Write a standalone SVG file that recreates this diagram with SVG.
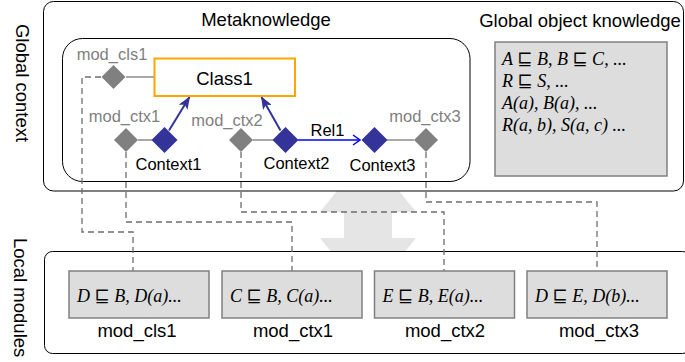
<svg xmlns="http://www.w3.org/2000/svg" width="685" height="362" viewBox="0 0 685 362">
<defs>
<style>
.t{font-family:"Liberation Sans",Arial,sans-serif;fill:#000}
.big{font-size:18.5px}
.lbl{font-size:16.5px}
.gl{fill:#7f7f7f}
.mid{text-anchor:middle}
.m{font-family:"Liberation Serif","Times New Roman","DejaVu Serif",serif;font-style:italic;font-size:18px;fill:#000}
.frame{fill:#fff;stroke:#000;stroke-width:1}
.kb{fill:#dddddd;stroke:#808080;stroke-width:1.5}
.dash{fill:none;stroke:#6e6e6e;stroke-width:1.3;stroke-dasharray:6 4}
.gline{stroke:#8c8c8c;stroke-width:1.5;fill:none}
.barr{stroke:#333399;stroke-width:2;fill:none}
</style>
<path id="dg" d="M0,-12 L12,0 L0,12 L-12,0 Z" fill="#808080"/>
<path id="db" d="M0,-13 L13,0 L0,13 L-13,0 Z" fill="#333399"/>
<marker id="ah" markerUnits="userSpaceOnUse" markerWidth="13" markerHeight="10" refX="12" refY="5" orient="auto"><path d="M0,0 L13,5 L0,10 L3,5 Z" fill="#333399"/></marker>
<marker id="oh" markerUnits="userSpaceOnUse" markerWidth="10" markerHeight="12" refX="8" refY="6" orient="auto"><path d="M1,1 L8,6 L1,11" fill="none" stroke="#0000ff" stroke-width="1.5"/></marker>
</defs>

<g id="exchange-arrow">
<polygon points="368,152 416,212 392,212 392,238 416,238 368,298 320,238 344,238 344,212 320,212" fill="#e5e5e5"/>
</g>

<g id="global-context">
<rect class="frame" x="43.5" y="1.5" width="640" height="189.5" rx="10"/>
<text class="t big mid" transform="translate(16,83) rotate(90)">Global context</text>
</g>

<g id="metaknowledge">
<rect class="frame" x="62.5" y="38.5" width="407.5" height="143" rx="20"/>
<text class="t big mid" x="266" y="25.5">Metaknowledge</text>
</g>

<g id="global-object-knowledge">
<text class="t big mid" x="580" y="27">Global object knowledge</text>
<rect class="kb" x="495" y="42" width="172" height="134"/>
<text class="m" x="502" y="64.5">A ⊑ B, B ⊑ C, ...</text>
<text class="m" x="502" y="86.5">R ⊑ S, ...</text>
<text class="m" x="502" y="108.5">A(a), B(a), ...</text>
<text class="m" x="502" y="130.5">R(a, b), S(a, c) ...</text>
</g>

<g id="local-modules">
<rect class="frame" x="44.5" y="251.5" width="646" height="102" rx="8"/>
<text class="t big" transform="translate(14,238) rotate(90)">Local modules</text>
</g>

<g id="connectors">
<line class="gline" x1="126" y1="77" x2="154" y2="77"/>
<line class="gline" x1="138" y1="140" x2="152" y2="140"/>
<line class="gline" x1="253" y1="140" x2="273" y2="140"/>
<line class="gline" x1="387" y1="140" x2="414" y2="140"/>
<line class="barr" x1="169" y1="130.5" x2="189.5" y2="97" marker-end="url(#ah)"/>
<line class="barr" x1="280.5" y1="130.5" x2="261.5" y2="97" marker-end="url(#ah)"/>
<line x1="298" y1="140" x2="360" y2="140" stroke="#0000ff" stroke-width="1.5" marker-end="url(#oh)"/>
<text class="t lbl mid" x="327.5" y="135.5">Rel1</text>
<polyline class="dash" points="101,77 82,77 82,232 133,232 133,271"/>
<polyline class="dash" points="126,152 126,222 292,222 292,271"/>
<polyline class="dash" points="241,152 241,212 444,212 444,271"/>
<polyline class="dash" points="426,152 426,202 597,202 597,271"/>
</g>

<g id="class1">
<rect x="154.5" y="58.5" width="140.5" height="37.5" fill="#fff" stroke="#ffa500" stroke-width="2"/>
<text class="t big mid" x="224.5" y="84.5">Class1</text>
</g>

<g id="mod_cls1-node">
<use href="#dg" x="113.5" y="77"/>
<text class="t lbl gl mid" x="112" y="60">mod_cls1</text>
</g>
<g id="mod_ctx1-node">
<use href="#dg" x="126" y="140"/>
<text class="t lbl gl mid" x="124.5" y="122">mod_ctx1</text>
</g>
<g id="mod_ctx2-node">
<use href="#dg" x="241" y="140"/>
<text class="t lbl gl mid" x="227" y="125.5">mod_ctx2</text>
</g>
<g id="mod_ctx3-node">
<use href="#dg" x="426" y="140"/>
<text class="t lbl gl mid" x="425" y="122">mod_ctx3</text>
</g>

<g id="context1">
<use href="#db" x="164.5" y="140"/>
<text class="t lbl mid" x="168.5" y="170">Context1</text>
</g>
<g id="context2">
<use href="#db" x="285.5" y="140"/>
<text class="t lbl mid" x="296.5" y="169">Context2</text>
</g>
<g id="context3">
<use href="#db" x="374.5" y="140"/>
<text class="t lbl mid" x="382.5" y="171">Context3</text>
</g>

<g id="module-mod_cls1">
<rect class="kb" x="69" y="271" width="140" height="47"/>
<text class="m" x="77" y="302">D ⊑ B, D(a)...</text>
<text class="t big mid" x="137" y="337">mod_cls1</text>
</g>
<g id="module-mod_ctx1">
<rect class="kb" x="222" y="271" width="140" height="47"/>
<text class="m" x="230" y="302">C ⊑ B, C(a)...</text>
<text class="t big mid" x="293" y="337">mod_ctx1</text>
</g>
<g id="module-mod_ctx2">
<rect class="kb" x="374.5" y="271" width="140" height="47"/>
<text class="m" x="382.5" y="302">E ⊑ B, E(a)...</text>
<text class="t big mid" x="445" y="337">mod_ctx2</text>
</g>
<g id="module-mod_ctx3">
<rect class="kb" x="527" y="271" width="140" height="47"/>
<text class="m" x="535" y="302">D ⊑ E, D(b)...</text>
<text class="t big mid" x="599" y="337">mod_ctx3</text>
</g>
</svg>
